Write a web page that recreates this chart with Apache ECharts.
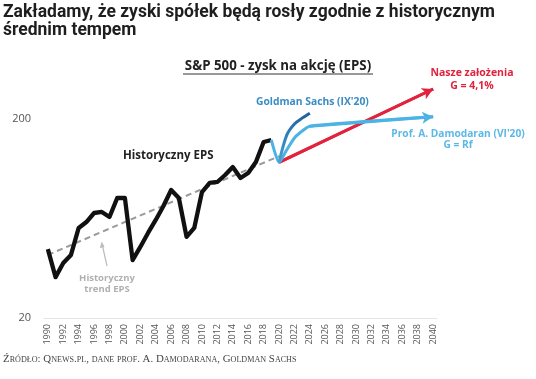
<!DOCTYPE html>
<html><head><meta charset="utf-8">
<script src="https://cdn.jsdelivr.net/npm/echarts@6/dist/echarts.min.js"></script>
<style>html,body{margin:0;padding:0;background:#fff}#c{width:536px;height:379px}</style>
</head><body><div id="c"></div>
<script>
const years = ['1990','1991','1992','1993','1994','1995','1996','1997','1998','1999','2000','2001','2002','2003','2004','2005','2006','2007','2008','2009','2010','2011','2012','2013','2014','2015','2016','2017','2018','2019','2020','2021','2022','2023','2024','2025','2026','2027','2028','2029','2030','2031','2032','2033','2034','2035','2036','2037','2038','2039','2040'];
const histYears = ['1990','1991','1992','1993','1994','1995','1996','1997','1998','1999','2000','2001','2002','2003','2004','2005','2006','2007','2008','2009','2010','2011','2012','2013','2014','2015','2016','2017','2018','2019'];
const histEPS = [44.4,32.1,37.8,41.5,56.7,60.7,67.4,68.2,64.4,80.2,80.2,39.1,45.5,53.5,62.2,73.1,88.0,80.2,51.1,56.7,85.9,95.4,96.5,104.6,114.8,101.1,107.1,121.6,153.3,156.9];
const trendYears = ['1990','2020'];
const trendEPS = [41.5,130];
const gsYears = ['2020','2021','2022','2023','2024'];
const gsEPS = [121,166,189,202,214];
const damYears = ['2019','2020','2021','2022','2023','2024','2040'];
const damEPS = [156.9,121,140,160.6,174,184,205];
const ourYears = ['2020','2040'];
const ourEPS = [121,283];
const yTicks = [20,200];

function align(ys, vs){ const m={}; ys.forEach((y,i)=>m[y]=vs[i]); return years.map(y=> (y in m)? m[y] : null); }

const titleLines = ['Zakładamy, że zyski spółek będą rosły zgodnie z historycznym','średnim tempem'];
const titleFam = 'Roboto, "DejaVu Sans Condensed", sans-serif';
const cv = document.createElement('canvas').getContext('2d');
cv.font = 'bold 100px ' + titleFam;
const titleSize = Math.min(17.5, 100 * 494 / cv.measureText(titleLines[0]).width);

const chart = echarts.init(document.getElementById('c'), null, {renderer:'canvas'});
const lbl = '"Open Sans", Lato, sans-serif';
const RED='#e2233d', CYAN='#4cb3e4';

function smallCaps(s){
  let out='';
  for (const ch of s){
    if (ch===' ') { out+='{b| }'; continue; }
    if (ch !== ch.toLowerCase()) out += '{b|'+ch+'}';
    else if (ch !== ch.toUpperCase()) out += '{s|'+ch.toUpperCase()+'}';
    else out += '{b|'+ch+'}';
  }
  return out;
}
const source = 'Źródło: Qnews.pl, dane prof. A. Damodarana, Goldman Sachs';
const serif = '"Liberation Serif", "DejaVu Serif", serif';

chart.setOption({
  animation:false,
  backgroundColor:'#fff',
  grid:{left:44, right:99, top:59.1, bottom:61, containLabel:false},
  xAxis:{type:'category', data:years, boundaryGap:true,
    axisLine:{lineStyle:{color:'#e4e4e4', width:1}}, axisTick:{show:false},
    axisLabel:{interval:1, rotate:90, color:'#555', fontSize:9, margin:6, fontFamily:lbl}},
  yAxis:{type:'log', logBase:10, min:20, max:400, interval:1,
    axisLine:{show:false}, axisTick:{show:false}, splitLine:{show:false},
    axisLabel:{color:'#555', fontSize:11, margin:13, fontFamily:lbl, showMaxLabel:false,
      formatter:v=> { const t = yTicks.find(t=>Math.abs(v/t-1)<0.01); return t ? String(t) : ''; }}},
  series:[
    {type:'line', data:align(trendYears,trendEPS), connectNulls:true, symbol:'none',
      lineStyle:{color:'#9a9a9a', width:2, type:[6,4]}, z:2},
    {type:'line', data:align(histYears,histEPS), symbol:'none',
      lineStyle:{color:'#111', width:4.3, join:'round'}, z:3},
    {type:'line', data:align(ourYears,ourEPS), connectNulls:true, symbol:'none',
      lineStyle:{color:RED, width:3}, z:4,
      markLine:{silent:true, symbol:['none','arrow'], symbolSize:[9,11], label:{show:false},
        lineStyle:{color:RED, width:3, type:'solid'},
        data:[[{coord:[ourYears[0],ourEPS[0]]},{coord:[ourYears[1],ourEPS[1]]}]]}},
    {type:'line', data:align(damYears,damEPS), connectNulls:true, symbol:'none', smooth:0.2,
      lineStyle:{color:CYAN, width:3}, z:5,
      markLine:{silent:true, symbol:['none','arrow'], symbolSize:[9,11], label:{show:false},
        lineStyle:{color:CYAN, width:3, type:'solid'},
        data:[[{coord:[damYears[5],damEPS[5]]},{coord:[damYears[6],damEPS[6]]}]]}},
    {type:'line', data:align(gsYears,gsEPS), symbol:'none', smooth:0.3,
      lineStyle:{width:3, color:new echarts.graphic.LinearGradient(0,1,0,0,[{offset:0,color:'#4aa6dc'},{offset:1,color:'#1d5e98'}])}, z:6}
  ],
  graphic:[
    {type:'text', left:3, top:4, style:{text:titleLines.join('\n'),
      font:'bold '+titleSize.toFixed(2)+'px '+titleFam, fill:'#1e1e1e', lineHeight:18}},
    {type:'text', x:278, y:66, style:{text:'S&P 500 - zysk na akcję (EPS)', font:'bold 13.3px '+lbl, fill:'#222', align:'center', verticalAlign:'middle'}},
    {type:'line', shape:{x1:183, y1:74, x2:373, y2:74}, style:{stroke:'#333', lineWidth:1}},
    {type:'text', x:123, y:156, style:{text:'Historyczny EPS', font:'bold 11.5px '+lbl, fill:'#222', verticalAlign:'middle'}},
    {type:'text', x:256, y:102, style:{text:"Goldman Sachs (IX'20)", font:'bold 10.3px '+lbl, fill:'#3a8cc4', verticalAlign:'middle'}},
    {type:'text', x:472, y:73, style:{text:'Nasze założenia', font:'bold 10.5px '+lbl, fill:RED, align:'center', verticalAlign:'middle'}},
    {type:'text', x:472, y:86, style:{text:'G = 4,1%', font:'bold 10.5px '+lbl, fill:RED, align:'center', verticalAlign:'middle'}},
    {type:'text', x:458, y:134, style:{text:"Prof. A. Damodaran (VI'20)", font:'bold 10.2px '+lbl, fill:'#5bb8e6', align:'center', verticalAlign:'middle'}},
    {type:'text', x:458, y:145, style:{text:'G = Rf', font:'bold 10.2px '+lbl, fill:'#5bb8e6', align:'center', verticalAlign:'middle'}},
    {type:'text', x:107, y:278, style:{text:'Historyczny', font:'bold 9.5px '+lbl, fill:'#b0b0b0', align:'center', verticalAlign:'middle'}},
    {type:'text', x:107, y:289, style:{text:'trend EPS', font:'bold 9.5px '+lbl, fill:'#b0b0b0', align:'center', verticalAlign:'middle'}},
    {type:'line', shape:{x1:107, y1:266, x2:102.5, y2:246}, style:{stroke:'#bbb', lineWidth:1.2}},
    {type:'polygon', shape:{points:[[101.7,241.5],[99.8,248],[104.6,247]]}, style:{fill:'#bbb'}},
    {type:'text', left:3, top:354, style:{text:smallCaps(source),
      rich:{b:{font:'10.9px '+serif, fill:'#444'},
            s:{font:'8.1px '+serif, fill:'#444'}}}}
  ]
});
</script></body></html>
